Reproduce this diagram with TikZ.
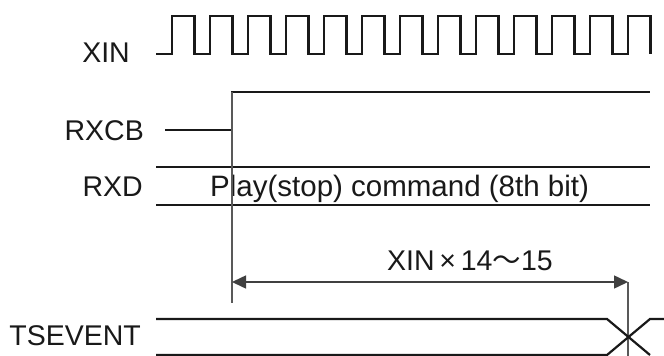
\documentclass[tikz,border=0pt]{standalone}
\usepackage{fontspec}
\setmainfont{Liberation Sans}
\newfontfamily\cjk{Noto Sans CJK JP}
\usetikzlibrary{arrows.meta}
\begin{document}
\begin{tikzpicture}[x=1pt,y=-1pt,
  sig/.style={line width=2.2pt,line join=miter,black!90},
  markline/.style={line width=1.4pt,black!65},
  dimline/.style={line width=1.5pt,black!75,{Triangle[length=14pt,width=13pt]}-{Triangle[length=14pt,width=13pt]}},
  lab/.style={inner sep=0pt,anchor=base east,font=\fontsize{28.5}{28.5}\selectfont,text=black!90},
  txt/.style={inner sep=0pt,font=\fontsize{28.5}{28.5}\selectfont,text=black!90}]
\useasboundingbox[fill=white] (0,0) rectangle (664,356);
% labels
\node[lab] (lxin) at (130,62) {XIN};
\node[lab] (lrxcb) at (144,140) {RXCB};
\node[lab] (lrxd) at (143,196) {RXD};
\node[lab] (lts) at (141,345) {TSEVENT};
% XIN clock
\draw[sig] (156,54) foreach \k in {0,...,12} {
  -- ({172+38*\k},54) -- ({172+38*\k},16)
  -- ({194.5+38*\k},16) -- ({194.5+38*\k},54) };
% RXCB
\draw[sig] (165,130) -- (232,130) -- (232,92) -- (650,92);
% RXD
\draw[sig] (156,167) -- (650,167);
\draw[sig] (156,205) -- (650,205);
\node[txt,anchor=base west,font=\fontsize{29.5}{29.5}\selectfont] (cmd) at (210,196) {Play(stop) command (8th bit)};
% markers
\coordinate (m1t) at (232,92);
\coordinate (m1b) at (232,303);
\coordinate (m2t) at (628,282);
\coordinate (m2b) at (628,357);
\draw[markline] (m1t) -- (m1b);
\draw[markline] (m2t) -- (m2b);
\coordinate (a1) at (232,282);
\coordinate (a2) at (628,282);
\draw[dimline] (a1) -- (a2);
\node[txt,anchor=base] (dimlab) at (470,270) {XIN\,×\,14{\cjk 〜}15};
% TSEVENT
\draw[sig] (156,319) -- (607,319) -- (650,355);
\draw[sig] (156,355) -- (607,355) -- (650,319) -- (664,319);
\end{tikzpicture}
\end{document}
